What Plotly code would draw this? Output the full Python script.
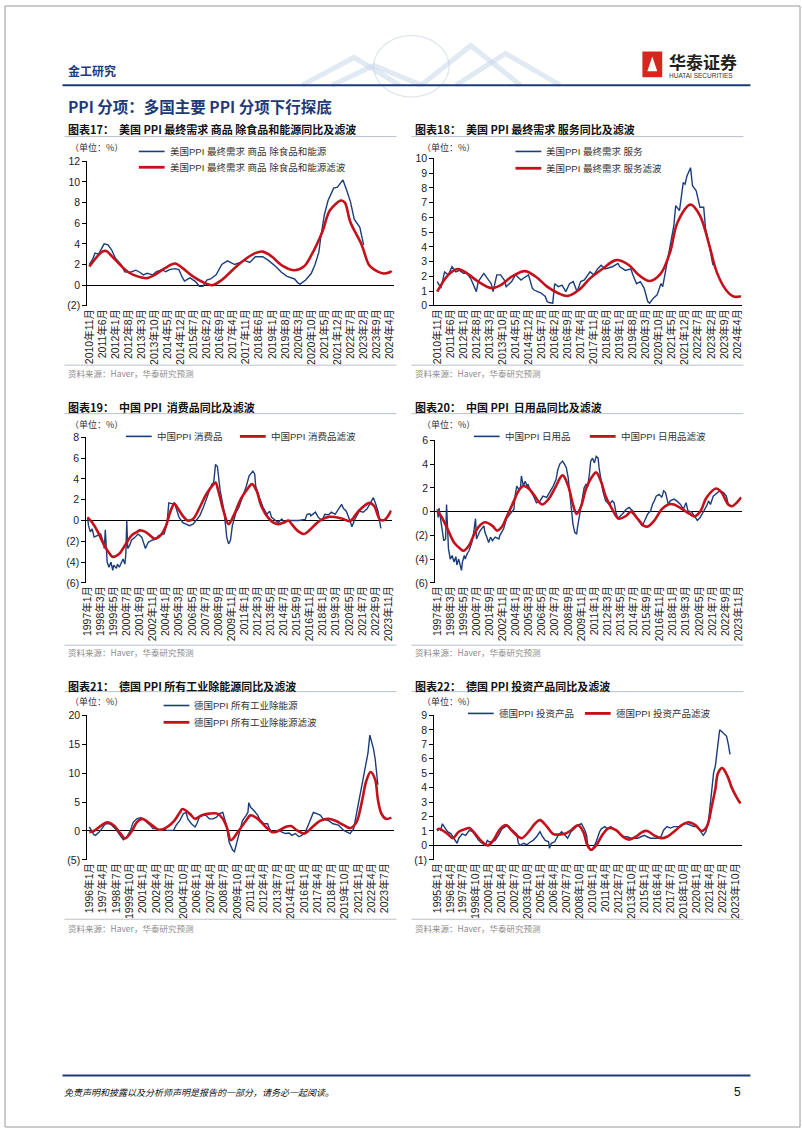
import re
import plotly.graph_objects as go

W, H = 802, 1133
BLUE = "#1b3d7c"
RED = "#c4121c"
NAVY = "#1e3a78"
TXT = "#222222"
GRAYLINE = "#b9c0cc"
LAT = "Liberation Sans, Arial, Noto Sans CJK SC, sans-serif"
CJK = "Noto Sans CJK SC, Liberation Sans, sans-serif"

# ---------------- 图表17 ----------------
c17_ticks = ["2010年11月", "2011年6月", "2012年1月", "2012年8月", "2013年3月", "2013年10月",
             "2014年5月", "2014年12月", "2015年7月", "2016年2月", "2016年9月", "2017年4月",
             "2017年11月", "2018年6月", "2019年1月", "2019年8月", "2020年3月", "2020年10月",
             "2021年5月", "2021年12月", "2022年7月", "2023年2月", "2023年9月", "2024年4月"]
c17_blue_dates = ["2010-11", "2011-01", "2011-02", "2011-04", "2011-07", "2011-09", "2011-11", "2012-01", "2012-04", "2012-06",
                  "2012-09", "2012-12", "2013-02", "2013-04", "2013-06", "2013-09", "2013-11", "2014-02", "2014-04", "2014-06",
                  "2014-09", "2014-11", "2015-01", "2015-02", "2015-05", "2015-08", "2015-10", "2015-12", "2016-02", "2016-04",
                  "2016-07", "2016-10", "2017-01", "2017-05", "2017-08", "2017-10", "2018-01", "2018-04", "2018-08", "2018-11",
                  "2019-03", "2019-06", "2019-09", "2020-01", "2020-03", "2020-04", "2020-07", "2020-10", "2020-12", "2021-02",
                  "2021-03", "2021-05", "2021-07", "2021-10", "2021-12", "2022-02", "2022-03", "2022-05", "2022-07", "2022-09",
                  "2022-12", "2023-02"]
c17_blue = [2.0, 2.6, 3.1, 3.0, 4.0, 3.9, 3.4, 2.6, 2.0, 1.3,
            1.25, 1.45, 1.25, 1.0, 1.15, 1.0, 1.3, 1.5, 1.3, 1.5,
            1.6, 1.5, 0.7, 0.4, 0.7, 0.35, -0.1, -0.1, 0.5, 0.6,
            1.0, 2.0, 2.35, 2.0, 2.2, 2.4, 2.2, 2.75, 2.75, 2.4,
            1.8, 1.25, 0.85, 0.6, 0.2, 0.1, 0.5, 1.15, 2.0, 3.2,
            4.5, 6.8, 8.2, 9.4, 9.5, 10.0, 10.2, 9.2, 8.1, 6.4,
            5.6, 3.9]
c17_red_dates = ["2010-11", "2011-06", "2011-08", "2012-01", "2012-08", "2013-03", "2013-06", "2013-10", "2014-05", "2014-09",
                 "2015-01", "2015-06", "2016-01", "2016-05", "2016-10", "2017-04", "2017-09", "2018-04", "2018-08", "2019-01",
                 "2019-06", "2020-01", "2020-06", "2020-10", "2021-04", "2021-08", "2022-02", "2022-04", "2022-07", "2023-01",
                 "2023-05", "2023-08", "2023-12", "2024-04", "2024-05"]
c17_red = [1.8, 3.25, 3.3, 2.45, 1.25, 0.75, 0.68, 1.0, 1.8, 2.1,
           1.65, 0.93, 0.2, 0.0, 0.5, 1.5, 2.3, 3.1, 3.25, 2.75,
           1.95, 1.45, 1.8, 2.9, 5.2, 7.25, 8.2, 8.0, 6.1, 3.9,
           1.95, 1.48, 1.15, 1.25, 1.4]

# ---------------- 图表18 ----------------
c18_ticks = c17_ticks
c18_blue_dates = ["2010-11", "2011-01", "2011-03", "2011-05", "2011-07", "2011-09", "2011-11", "2012-01", "2012-03", "2012-05",
                  "2012-08", "2012-09", "2012-12", "2013-02", "2013-04", "2013-05", "2013-07", "2013-09", "2013-11", "2013-12",
                  "2014-03", "2014-05", "2014-08", "2014-09", "2014-12", "2015-02", "2015-03", "2015-05", "2015-07", "2015-09",
                  "2015-10", "2015-11", "2016-01", "2016-02", "2016-04", "2016-06", "2016-08", "2016-10", "2016-12", "2017-02",
                  "2017-04", "2017-06", "2017-09", "2017-11", "2018-01", "2018-03", "2018-05", "2018-09", "2018-12", "2019-01",
                  "2019-04", "2019-07", "2019-08", "2019-10", "2019-12", "2020-02", "2020-04", "2020-05", "2020-07", "2020-09",
                  "2020-11", "2020-12", "2021-02", "2021-04", "2021-06", "2021-07", "2021-09", "2021-11", "2021-12", "2022-01",
                  "2022-03", "2022-04", "2022-06", "2022-08", "2022-10", "2022-11", "2023-01", "2023-03"]
c18_blue = [1.64, 1.2, 2.3, 2.1, 2.65, 2.3, 2.4, 2.2, 2.2, 1.85,
            0.96, 1.64, 2.2, 1.85, 1.5, 0.96, 2.1, 2.1, 1.75, 1.3,
            1.64, 2.1, 1.75, 1.85, 2.1, 1.2, 1.07, 0.96, 0.85, 0.63,
            0.29, 0.22, 0.18, 1.5, 1.3, 1.4, 0.96, 1.5, 1.64, 0.96,
            1.64, 1.75, 2.3, 2.1, 2.5, 2.75, 2.5, 2.65, 2.87, 2.65,
            2.4, 2.5, 2.1, 1.5, 1.64, 1.2, 0.29, 0.18, 0.52, 0.74,
            1.5, 1.3, 2.75, 4.2, 5.45, 6.8, 6.45, 8.36, 8.25, 8.8,
            9.37, 8.14, 7.8, 6.68, 6.68, 5.22, 4.1, 2.75]
c18_red_dates = ["2010-11", "2011-05", "2011-10", "2012-03", "2012-09", "2013-04", "2013-09", "2014-03", "2014-10", "2015-04",
                 "2015-10", "2016-04", "2016-09", "2017-03", "2017-09", "2018-04", "2018-11", "2019-06", "2019-11", "2020-05",
                 "2020-11", "2021-04", "2021-08", "2022-03", "2022-08", "2023-01", "2023-05", "2023-10", "2024-02", "2024-06"]
c18_red = [0.96, 2.1, 2.5, 2.2, 1.64, 1.2, 1.4, 1.97, 2.35, 1.97,
           1.3, 0.85, 0.67, 1.07, 1.86, 2.53, 3.1, 2.75, 2.1, 1.68,
           2.2, 3.65, 5.67, 6.86, 6.12, 4.1, 2.3, 1.07, 0.63, 0.65]

# ---------------- 图表19 ----------------
c19_ticks = ["1997年1月", "1998年3月", "1999年5月", "2000年7月", "2001年9月", "2002年11月",
             "2004年1月", "2005年3月", "2006年5月", "2007年7月", "2008年9月", "2009年11月",
             "2011年1月", "2012年3月", "2013年5月", "2014年7月", "2015年9月", "2016年11月",
             "2018年1月", "2019年3月", "2020年5月", "2021年7月", "2022年9月", "2023年11月"]
c19_blue_dates = ["1997-01", "1997-02", "1997-04", "1997-06", "1997-08", "1997-12", "1998-03", "1998-05", "1998-07", "1998-08",
                  "1998-09", "1998-10", "1998-12", "1999-02", "1999-04", "1999-05", "1999-08", "1999-09", "1999-11", "2000-01",
                  "2000-03", "2000-05", "2000-06", "2000-07", "2000-08", "2000-10", "2000-12", "2001-04", "2001-07", "2001-11",
                  "2002-03", "2002-06", "2002-10", "2003-02", "2003-05", "2003-11", "2004-02", "2004-04", "2004-08", "2004-10",
                  "2004-12", "2005-03", "2005-07", "2005-11", "2006-02", "2006-06", "2006-09", "2007-01", "2007-05", "2007-08",
                  "2007-12", "2008-02", "2008-04", "2008-06", "2008-08", "2008-09", "2008-11", "2009-01", "2009-03", "2009-05",
                  "2009-06", "2009-08", "2009-10", "2009-12", "2010-04", "2010-07", "2010-11", "2011-03", "2011-06", "2011-10",
                  "2011-12", "2012-01", "2012-05", "2012-09", "2013-01", "2013-04", "2013-06", "2013-10", "2014-01", "2014-05",
                  "2014-08", "2014-12", "2015-04", "2015-11", "2016-06", "2016-08", "2016-11", "2016-12", "2017-05", "2017-08",
                  "2017-12", "2018-03", "2018-07", "2018-10", "2019-02", "2019-06", "2019-09", "2019-11", "2020-02", "2020-06",
                  "2020-08", "2020-11", "2021-01", "2021-04", "2021-08", "2021-12", "2022-03", "2022-07", "2022-09", "2022-12",
                  "2023-03"]
c19_blue = [0.3, -0.5, -1.1, -0.8, -1.6, -1.45, -1.3, -1.8, -2.7, -0.9,
            -2.4, -4.0, -4.5, -4.0, -4.8, -4.3, -4.6, -4.2, -4.5, -4.0,
            -3.7, -4.2, -3.2, 0.0, -2.7, -2.4, -1.9, -1.6, -1.3, -1.6,
            -2.7, -2.1, -1.9, -1.8, -1.45, -1.3, -0.3, 1.7, 1.6, 1.7,
            1.1, 0.3, -0.2, -0.35, -0.5, -0.35, 0.0, 0.45, 1.25, 2.05,
            3.0, 3.5, 3.65, 5.4, 5.2, 4.3, 2.85, 1.9, 0.95, -0.65,
            -1.6, -2.25, -1.9, -0.5, 0.8, 1.25, 2.2, 3.3, 4.3, 4.75,
            4.45, 3.3, 2.2, 1.25, 0.6, 0.9, 0.3, 0.0, -0.2, 0.15,
            -0.2, 0.0, 0.0, 0.0, 0.1, 0.6, 0.65, 0.45, 0.8, 0.3,
            0.0, 0.6, 0.55, 0.8, 0.6, 1.2, 1.55, 1.15, 0.9, -0.05,
            -0.6, 0.1, 0.45, 0.9, 0.8, 1.1, 1.55, 2.2, 1.7, 0.9,
            -0.75]
c19_red_dates = ["1997-01", "1997-06", "1997-12", "1998-07", "1999-02", "1999-04", "1999-11", "2000-05", "2000-12", "2001-06",
                 "2001-09", "2002-03", "2002-10", "2003-01", "2003-07", "2004-01", "2004-06", "2004-10", "2005-01", "2005-07",
                 "2005-12", "2006-06", "2007-01", "2007-08", "2008-04", "2008-06", "2008-09", "2009-03", "2009-08", "2010-02",
                 "2010-09", "2011-04", "2011-09", "2012-02", "2012-07", "2013-02", "2013-08", "2014-01", "2014-07", "2014-12",
                 "2015-04", "2015-10", "2016-05", "2016-11", "2017-04", "2017-10", "2018-07", "2019-09", "2020-06", "2021-03",
                 "2022-03", "2022-08", "2023-02", "2023-07", "2024-02"]
c19_red = [0.3, -0.2, -1.1, -2.4, -3.35, -3.5, -3.2, -2.4, -1.45, -1.1,
           -0.95, -1.1, -1.6, -1.75, -1.45, -0.5, 0.95, 1.6, 1.25, 0.45,
           0.0, 0.15, 1.25, 2.5, 3.5, 3.65, 2.85, 0.8, -0.35, 0.6,
           2.05, 3.0, 3.5, 2.85, 1.4, 0.3, -0.2, -0.35, -0.2, 0.0,
           -0.4, -1.0, -1.3, -0.9, -0.45, 0.0, 0.35, 0.2, -0.05, 0.9,
           1.7, 1.37, 0.1, 0.06, 0.95]

# ---------------- 图表20 ----------------
c20_ticks = c19_ticks
c20_blue_dates = ["1997-01", "1997-02", "1997-03", "1997-05", "1997-07", "1997-08", "1997-10", "1997-11", "1998-01", "1998-03",
                  "1998-05", "1998-07", "1998-09", "1998-10", "1998-12", "1999-02", "1999-03", "1999-04", "1999-06", "1999-07",
                  "1999-09", "1999-11", "2000-01", "2000-02", "2000-04", "2000-06", "2000-07", "2000-09", "2000-11", "2001-03",
                  "2001-04", "2001-06", "2001-08", "2001-10", "2001-12", "2002-03", "2002-07", "2002-08", "2002-12", "2003-03",
                  "2003-07", "2003-11", "2003-12", "2004-02", "2004-04", "2004-06", "2004-07", "2004-09", "2004-11", "2005-01",
                  "2005-02", "2005-04", "2005-08", "2005-11", "2006-03", "2006-06", "2006-10", "2007-01", "2007-05", "2007-08",
                  "2007-10", "2007-12", "2008-03", "2008-05", "2008-07", "2008-09", "2008-11", "2008-12", "2009-02", "2009-04",
                  "2009-06", "2009-07", "2009-09", "2009-11", "2010-01", "2010-02", "2010-04", "2010-06", "2010-08", "2010-09",
                  "2010-11", "2011-01", "2011-03", "2011-05", "2011-06", "2011-08", "2011-10", "2012-01", "2012-05", "2012-08",
                  "2012-10", "2012-12", "2013-02", "2013-03", "2013-07", "2013-11", "2014-02", "2014-06", "2014-09", "2015-01",
                  "2015-04", "2015-06", "2015-10", "2016-01", "2016-03", "2016-05", "2016-07", "2016-10", "2017-01", "2017-03",
                  "2017-05", "2017-08", "2017-10", "2018-02", "2018-05", "2018-09", "2018-12", "2019-03", "2019-05", "2019-09",
                  "2020-01", "2020-03", "2020-06", "2020-10", "2021-01", "2021-03", "2021-05", "2021-08", "2021-12", "2022-03",
                  "2022-07", "2022-10", "2022-12", "2023-02"]
c20_blue = [0.2, -0.5, 0.3, -0.9, -1.7, -2.45, -2.3, 0.6, -3.1, -4.0,
            -3.7, -4.25, -3.8, -4.5, -4.0, -4.8, -4.95, -4.25, -3.7, -4.0,
            -3.55, -3.3, -2.7, -2.6, -1.75, -0.6, -2.3, -1.9, -1.6, -1.2,
            -1.75, -2.15, -2.6, -2.15, -2.45, -2.15, -2.3, -2.0, -1.45, -0.6,
            -0.2, 0.2, 1.2, 2.15, 1.9, 2.0, 3.0, 2.15, 2.55, 2.15,
            2.3, 1.9, 1.3, 0.75, 0.9, 1.3, 1.2, 1.6, 2.15, 2.7,
            3.55, 4.0, 4.25, 4.0, 3.7, 2.85, 1.3, 0.05, -1.05, -1.75,
            -1.9, -1.3, -0.35, 0.75, 1.6, 2.0, 2.3, 2.15, 3.4, 4.25,
            4.5, 4.1, 4.65, 4.5, 3.7, 2.55, 1.75, 0.9, 0.6, 0.9,
            0.75, -0.05, -0.6, -0.5, -0.2, 0.2, 0.35, 0.05, -0.35, -0.9,
            -1.2, -0.9, -0.2, 0.05, 0.6, 0.9, 1.3, 1.45, 1.2, 1.75,
            1.6, 0.6, 0.9, 1.05, 0.9, 0.6, 0.2, 0.75, 0.05, -0.05,
            -0.5, -0.75, -0.5, 0.05, 0.5, 0.9, 0.6, 1.3, 1.6, 1.75,
            1.6, 1.3, 0.6, 0.5]
c20_red_dates = ["1997-01", "1997-05", "1997-12", "1998-07", "1999-02", "1999-05", "1999-11", "2000-04", "2000-09", "2001-04",
                 "2001-12", "2002-05", "2002-10", "2003-03", "2003-11", "2004-04", "2004-09", "2005-02", "2005-08", "2006-05",
                 "2006-12", "2007-07", "2008-03", "2008-09", "2009-02", "2009-06", "2009-11", "2010-04", "2010-11", "2011-03",
                 "2011-08", "2012-01", "2012-08", "2013-03", "2013-11", "2014-04", "2014-11", "2015-06", "2015-10", "2016-05",
                 "2017-01", "2017-08", "2018-02", "2018-11", "2019-07", "2019-12", "2020-06", "2021-01", "2021-11", "2022-05",
                 "2022-12", "2023-04", "2023-09", "2024-02"]
c20_red = [0.05, -0.35, -1.45, -2.6, -3.15, -3.3, -2.85, -2.0, -1.3, -0.9,
           -1.2, -1.6, -1.3, -0.5, 0.9, 1.75, 2.15, 2.0, 1.45, 0.6,
           1.05, 2.0, 3.05, 2.15, 0.6, -0.2, 0.5, 1.9, 3.0, 3.3,
           2.55, 1.3, 0.2, -0.6, -0.35, 0.0, -0.6, -1.2, -1.25, -0.75,
           0.2, 0.6, 0.6, 0.2, -0.2, -0.4, 0.0, 1.2, 1.95, 1.6,
           0.6, 0.45, 0.75, 1.2]

# ---------------- 图表21 ----------------
c21_ticks = ["1996年1月", "1997年4月", "1998年7月", "1999年10月", "2001年1月", "2002年4月",
             "2003年7月", "2004年10月", "2006年1月", "2007年4月", "2008年7月", "2009年10月",
             "2011年1月", "2012年4月", "2013年7月", "2014年10月", "2016年1月", "2017年4月",
             "2018年7月", "2019年10月", "2021年1月", "2022年4月", "2023年7月"]
c21_blue_dates = ["1996-01", "1996-03", "1996-06", "1996-08", "1996-12", "1997-03", "1997-07", "1997-11", "1998-02", "1998-06",
                  "1998-10", "1999-01", "1999-03", "1999-07", "1999-11", "2000-02", "2000-06", "2000-10", "2001-01", "2001-05",
                  "2001-09", "2001-12", "2002-04", "2002-08", "2002-12", "2003-03", "2003-07", "2003-11", "2004-02", "2004-06",
                  "2004-10", "2005-01", "2005-03", "2005-07", "2005-11", "2006-01", "2006-04", "2006-08", "2006-11", "2007-03",
                  "2007-07", "2007-11", "2008-02", "2008-06", "2008-08", "2008-10", "2009-01", "2009-05", "2009-07", "2009-09",
                  "2009-12", "2010-04", "2010-08", "2010-10", "2010-11", "2011-01", "2011-05", "2011-09", "2011-12", "2012-04",
                  "2012-08", "2012-10", "2013-01", "2013-05", "2013-09", "2013-12", "2014-04", "2014-08", "2014-11", "2015-03",
                  "2015-07", "2015-10", "2016-02", "2016-06", "2016-10", "2016-11", "2017-03", "2017-07", "2017-10", "2018-04",
                  "2018-09", "2019-03", "2019-09", "2020-01", "2020-04", "2020-08", "2020-09", "2021-01", "2021-05", "2021-07",
                  "2021-10", "2021-12", "2022-02", "2022-04", "2022-06", "2022-08", "2022-10", "2022-11"]
c21_blue = [0.7, 0.1, -0.6, -0.75, -0.2, 0.4, 1.25, 1.25, 1.0, 0.4,
            -0.45, -1.3, -1.5, -1.0, 0.1, 1.5, 2.1, 2.3, 2.1, 1.5,
            1.0, 0.4, 0.4, 0.1, 0.4, 0.1, 0.1, 0.1, 1.0, 1.8,
            3.0, 3.2, 2.1, 1.25, 0.7, 1.25, 2.4, 2.7, 2.7, 2.1,
            2.1, 2.4, 3.0, 3.2, 2.1, 1.0, -1.9, -3.3, -3.6, -2.4,
            -0.2, 1.8, 2.7, 3.2, 4.9, 4.1, 3.5, 2.7, 1.8, 1.25,
            1.25, 0.4, -0.2, -0.05, 0.1, -0.2, -0.45, -0.35, -0.75, -0.45,
            -1.0, -0.75, -0.2, 1.25, 2.7, 3.2, 3.0, 2.7, 2.1, 1.8,
            1.25, 1.0, 0.1, -0.2, -0.45, 0.4, 1.25, 4.4, 7.8, 8.9,
            11.5, 13.5, 16.6, 15.5, 14.3, 12.5, 10.0, 8.0]
c21_red_dates = ["1996-01", "1996-06", "1997-03", "1997-09", "1998-04", "1998-12", "1999-05", "2000-01", "2000-06", "2000-12",
                 "2001-09", "2002-04", "2002-08", "2003-05", "2003-12", "2004-06", "2004-09", "2005-05", "2005-11", "2006-06",
                 "2007-03", "2007-12", "2008-06", "2008-11", "2009-03", "2009-12", "2010-08", "2011-01", "2011-09", "2012-06",
                 "2013-01", "2013-07", "2014-04", "2014-10", "2015-05", "2016-01", "2016-10", "2017-07", "2018-04", "2018-11",
                 "2019-09", "2020-04", "2020-11", "2021-05", "2021-10", "2022-03", "2022-08", "2022-11", "2023-03", "2023-08",
                 "2024-02"]
c21_red = [-0.2, 0.0, 1.0, 1.5, 1.0, -0.45, -1.3, 0.1, 1.5, 2.1,
           1.25, 0.4, 0.2, 0.8, 1.8, 3.2, 3.8, 3.0, 2.1, 2.7,
           3.0, 3.0, 2.1, 0.4, -1.6, 0.1, 1.8, 2.7, 2.1, 0.7,
           -0.2, -0.05, 0.7, 0.85, 0.1, -0.45, 0.7, 1.8, 2.1, 1.8,
           1.0, 0.5, 1.5, 4.9, 8.6, 10.2, 8.9, 5.5, 3.0, 2.1,
           2.3]

# ---------------- 图表22 ----------------
c22_ticks = ["1995年1月", "1996年4月", "1997年7月", "1998年10月", "2000年1月", "2001年4月",
             "2002年7月", "2003年10月", "2005年1月", "2006年4月", "2007年7月", "2008年10月",
             "2010年1月", "2011年4月", "2012年7月", "2013年10月", "2015年1月", "2016年4月",
             "2017年7月", "2018年10月", "2020年1月", "2021年4月", "2022年7月", "2023年10月"]
c22_blue_dates = ["1995-01", "1995-03", "1995-05", "1995-07", "1995-09", "1996-01", "1996-05", "1996-07", "1996-10", "1996-12",
                  "1997-02", "1997-06", "1997-10", "1998-02", "1998-06", "1998-09", "1999-01", "1999-05", "1999-09", "1999-11",
                  "2000-01", "2000-04", "2000-08", "2000-12", "2001-04", "2001-08", "2001-10", "2002-02", "2002-05", "2002-09",
                  "2002-11", "2003-01", "2003-05", "2003-09", "2003-12", "2004-04", "2004-08", "2004-12", "2005-02", "2005-06",
                  "2005-10", "2005-11", "2006-01", "2006-05", "2006-09", "2007-01", "2007-05", "2007-08", "2007-12", "2008-04",
                  "2008-08", "2008-12", "2009-04", "2009-06", "2009-07", "2009-09", "2009-11", "2010-01", "2010-05", "2010-09",
                  "2010-11", "2011-03", "2011-06", "2011-10", "2012-02", "2012-06", "2012-10", "2013-02", "2013-05", "2013-09",
                  "2014-01", "2014-05", "2014-09", "2015-01", "2015-04", "2015-08", "2015-12", "2016-04", "2016-08", "2016-11",
                  "2017-03", "2017-07", "2017-11", "2018-03", "2018-07", "2018-10", "2019-02", "2019-06", "2019-10", "2020-02",
                  "2020-05", "2020-09", "2020-12", "2021-03", "2021-05", "2021-07", "2021-09", "2021-11", "2022-01", "2022-03",
                  "2022-04", "2022-06", "2022-08", "2022-10", "2022-12", "2023-02", "2023-04"]
c22_blue = [1.0, 1.15, 1.05, 1.5, 1.3, 0.95, 0.8, 0.6, 0.35, 0.15,
            0.5, 0.8, 0.7, 1.05, 0.95, 0.7, 0.35, 0.15, 0.0, 0.35,
            0.25, 0.25, 0.35, 0.7, 1.15, 1.3, 1.4, 1.15, 1.0, 0.8,
            0.15, 0.0, 0.15, 0.05, 0.2, 0.35, 0.6, 0.95, 0.7, 0.35,
            0.25, -0.2, 0.15, 0.25, 0.7, 0.95, 0.7, 0.5, 0.95, 1.15,
            1.4, 1.5, 1.05, 0.7, 0.15, -0.2, -0.35, -0.3, 0.25, 0.95,
            1.15, 1.3, 1.15, 1.3, 1.15, 0.95, 0.7, 0.6, 0.6, 0.5,
            0.5, 0.5, 0.6, 0.7, 0.6, 0.5, 0.5, 0.5, 0.6, 1.05,
            1.3, 1.2, 1.3, 1.3, 1.3, 1.5, 1.5, 1.4, 1.3, 1.3,
            1.05, 0.7, 0.95, 1.6, 2.75, 3.7, 5.05, 5.5, 6.65, 7.55,
            8.0, 7.9, 7.8, 7.65, 7.55, 7.0, 6.3]
c22_red_dates = ["1995-01", "1995-03", "1996-01", "1996-07", "1997-02", "1997-10", "1998-02", "1998-09", "1999-05", "1999-12",
                 "2000-06", "2001-02", "2001-09", "2002-03", "2002-11", "2003-03", "2003-11", "2004-06", "2004-12", "2005-08",
                 "2006-03", "2006-09", "2007-05", "2007-12", "2008-08", "2009-02", "2009-07", "2009-11", "2010-05", "2011-01",
                 "2011-08", "2012-04", "2012-12", "2013-07", "2014-03", "2014-11", "2015-04", "2015-12", "2016-08", "2017-03",
                 "2018-01", "2018-08", "2019-04", "2019-12", "2020-07", "2021-01", "2021-07", "2021-11", "2022-02", "2022-07",
                 "2023-01", "2023-06", "2023-11", "2024-04"]
c22_red = [1.05, 1.15, 0.8, 0.5, 0.95, 1.15, 1.2, 0.8, 0.25, 0.0,
           0.35, 1.15, 1.4, 1.05, 0.6, 0.5, 0.95, 1.5, 1.75, 1.3,
           0.8, 0.75, 0.8, 1.05, 1.4, 0.95, 0.0, -0.3, 0.0, 0.8,
           1.2, 1.05, 0.6, 0.4, 0.6, 0.95, 1.0, 0.7, 0.5, 0.6,
           1.05, 1.4, 1.6, 1.4, 1.0, 1.3, 2.75, 3.9, 5.0, 5.35,
           4.8, 4.0, 3.4, 2.9]

SOURCE = "资料来源：Haver，华泰研究预测"
UNIT = "（单位：%）"

charts = [
    dict(bx=c17_blue_dates, by=c17_blue, rx=c17_red_dates, ry=c17_red, ticks=c17_ticks,
         yr=(-2, 12), dy=2, box=(83, 392, 157, 303), xr=("2010-09-29", "2024-06-04"),
         title="图表17：  美国 PPI 最终需求 商品 除食品和能源同比及滤波",
         names=("美国PPI 最终需求 商品 除食品和能源", "美国PPI 最终需求 商品 除食品和能源滤波"),
         leg=((135, 147), (135, 163))),
    dict(bx=c18_blue_dates, by=c18_blue, rx=c18_red_dates, ry=c18_red, ticks=c18_ticks,
         yr=(0, 10), dy=1, box=(433, 743, 154, 303), xr=("2010-09-13", "2024-06-10"),
         title="图表18：  美国 PPI 最终需求 服务同比及滤波",
         names=("美国PPI 最终需求 服务", "美国PPI 最终需求 服务滤波"),
         leg=((515, 147), (515, 164))),
    dict(bx=c19_blue_dates, by=c19_blue, rx=c19_red_dates, ry=c19_red, ticks=c19_ticks,
         yr=(-6, 8), dy=2, box=(82, 390, 436, 583), xr=("1996-11-20", "2024-02-15"),
         title="图表19：  中国 PPI  消费品同比及滤波",
         names=("中国PPI 消费品", "中国PPI 消费品滤波"),
         leg=((122, 435), (237, 435))),
    dict(bx=c20_blue_dates, by=c20_blue, rx=c20_red_dates, ry=c20_red, ticks=c20_ticks,
         yr=(-6, 6), dy=2, box=(434, 743, 439, 583), xr=("1996-10-28", "2024-02-06"),
         title="图表20：  中国 PPI  日用品同比及滤波",
         names=("中国PPI 日用品", "中国PPI 日用品滤波"),
         leg=((473, 435), (590, 435))),
    dict(bx=c21_blue_dates, by=c21_blue, rx=c21_red_dates, ry=c21_red, ticks=c21_ticks,
         yr=(-5, 20), dy=5, box=(83, 392, 717, 863), xr=("1995-10-25", "2024-04-18"),
         title="图表21：  德国 PPI 所有工业除能源同比及滤波",
         names=("德国PPI 所有工业除能源", "德国PPI 所有工业除能源滤波"),
         leg=((160, 707), (160, 724))),
    dict(bx=c22_blue_dates, by=c22_blue, rx=c22_red_dates, ry=c22_red, ticks=c22_ticks,
         yr=(-1, 9), dy=1, box=(433, 743, 717, 863), xr=("1994-09-18", "2024-05-10"),
         title="图表22：  德国 PPI 投资产品同比及滤波",
         names=("德国PPI 投资产品", "德国PPI 投资产品滤波"),
         leg=((467, 715), (585, 715))),
]

# rows of page furniture: (title y, title underline y, unit y, source line y, source text y)
rows = [(124, 132, 143, 363, 371), (405, 412, 423, 646, 653), (687, 693, 703, 923, 932)]
cols = [(62, 60, 395, 64), (412, 410, 745, 419)]  # (title x, line x0, line x1, unit x)


def X(p):
    return p / W


def Y(p):
    return 1 - p / H


def label_to_date(s):
    m = re.match(r"(\d{4})年(\d{1,2})月", s)
    return f"{m.group(1)}-{int(m.group(2)):02d}-01"


def fmt(v):
    return f"({-v})" if v < 0 else f"{v}"


fig = go.Figure()
shapes = []
annos = []


def hline(x0, x1, y, color, width):
    shapes.append(dict(type="line", xref="paper", yref="paper", x0=X(x0), x1=X(x1), y0=Y(y), y1=Y(y),
                       line=dict(color=color, width=width), layer="above"))


def text(x, y, s, size, color=TXT, family=CJK, anchor="left"):
    annos.append(dict(xref="paper", yref="paper", x=X(x), y=Y(y), text=s, showarrow=False,
                      xanchor=anchor, yanchor="middle", font=dict(size=size, color=color, family=family)))


layout_axes = {}
for i, c in enumerate(charts):
    k = i + 1
    xs = "" if k == 1 else str(k)
    l, r, t, b = c["box"]
    fig.add_trace(go.Scatter(x=c["bx"], y=c["by"], mode="lines", name=c["names"][0],
                             line=dict(color=BLUE, width=1.4), xaxis="x" + xs, yaxis="y" + xs,
                             showlegend=False))
    fig.add_trace(go.Scatter(x=c["rx"], y=c["ry"], mode="lines", name=c["names"][1],
                             line=dict(color=RED, width=2.6, shape="spline", smoothing=1.0),
                             xaxis="x" + xs, yaxis="y" + xs, showlegend=False))
    y0, y1 = c["yr"]
    yt = list(range(y0, y1 + 1, c["dy"]))
    layout_axes["xaxis" + xs] = dict(
        domain=[X(l), X(r)], anchor="y" + xs, type="date", range=list(c["xr"]),
        tickmode="array", tickvals=[label_to_date(s) for s in c["ticks"]], ticktext=c["ticks"],
        tickangle=-90, showgrid=False, zeroline=False, showline=False, ticks="",
        tickfont=dict(size=10.5, color=TXT, family=LAT), fixedrange=True)
    layout_axes["yaxis" + xs] = dict(
        domain=[Y(b), Y(t)], anchor="x" + xs, range=[y0, y1], tickmode="array",
        tickvals=yt, ticktext=[fmt(v) for v in yt], showgrid=False,
        showline=True, linecolor="#000000", linewidth=1, ticks="outside", ticklen=4,
        tickcolor="#000000", zeroline=True, zerolinecolor="#000000", zerolinewidth=1,
        tickfont=dict(size=10.5, color=TXT, family=LAT), fixedrange=True)

    row = rows[i // 2]
    col = cols[i % 2]
    ty, tly, uy, sly, sty = row
    tx, lx0, lx1, ux = col
    text(tx, ty, "<b>" + c["title"] + "</b>", 11, color="#111111")
    hline(lx0, lx1, tly, GRAYLINE, 1)
    text(ux, uy, UNIT, 9, color="#333333")
    hline(lx0, lx1, sly, GRAYLINE, 1)
    text(tx, sty, SOURCE, 8.5, color="#8c8c8c")
    (bx0, byy), (rx0, ryy) = c["leg"]
    hline(bx0, bx0 + 26, byy, BLUE, 1.6)
    text(bx0 + 29, byy, c["names"][0], 9.5, color="#333333", family=LAT)
    hline(rx0, rx0 + 26, ryy, RED, 2.8)
    text(rx0 + 29, ryy, c["names"][1], 9.5, color="#333333", family=LAT)

# ---- page header ----
shapes.append(dict(type="circle", xref="paper", yref="paper", x0=X(372), x1=X(448), y0=Y(92), y1=Y(30),
                   line=dict(color="#dfe5ec", width=1.2), layer="below"))
for path_pts in [[(300, 80), (352, 52), (398, 80)], [(420, 80), (470, 40), (520, 80)],
                 [(455, 80), (505, 48), (560, 80)], [(330, 80), (372, 60), (420, 80)]]:
    d = "M " + " L ".join(f"{X(px):.5f} {Y(py):.5f}" for px, py in path_pts)
    shapes.append(dict(type="path", xref="paper", yref="paper", path=d,
                       line=dict(color="#c9d8ea", width=5), opacity=0.55, layer="below"))

text(62, 65, "<b>金工研究</b>", 12, color=NAVY)
hline(58, 752, 80, NAVY, 2)
text(62, 101, "<b>PPI 分项：多国主要 PPI 分项下行探底</b>", 15.5, color=NAVY)

# logo
shapes.append(dict(type="rect", xref="paper", yref="paper", x0=X(643), x1=X(663), y0=Y(72), y1=Y(46),
                   fillcolor="#d7261e", line=dict(width=0)))
shapes.append(dict(type="path", xref="paper", yref="paper",
                   path=f"M {X(648)} {Y(66)} L {X(653)} {Y(51)} L {X(658)} {Y(66)} Z",
                   fillcolor="#ffffff", line=dict(width=0)))
text(668, 56, "<b>华泰证券</b>", 17, color="#231f20")
text(668, 70, "HUATAI SECURITIES", 6.5, color="#333333", family=LAT)

# ---- footer ----
hline(58, 752, 1081, NAVY, 2)
text(58, 1098, "<i>免责声明和披露以及分析师声明是报告的一部分，请务必一起阅读。</i>", 9, color="#111111")
text(745, 1098, "5", 12, color="#111111", family=LAT, anchor="right")

# page border
shapes.append(dict(type="rect", xref="paper", yref="paper", x0=0, x1=1, y0=0, y1=1,
                   line=dict(color="#9a9a9a", width=1)))

fig.update_layout(
    width=W, height=H, margin=dict(l=0, r=0, t=0, b=0),
    paper_bgcolor="#ffffff", plot_bgcolor="rgba(0,0,0,0)",
    showlegend=False, shapes=shapes, annotations=annos,
    font=dict(family=CJK, color=TXT),
    **layout_axes,
)

fig.write_html(
    "out.html",
    config={"displayModeBar": False},
    post_script="document.body.style.margin='0';document.body.style.overflow='hidden';",
)
